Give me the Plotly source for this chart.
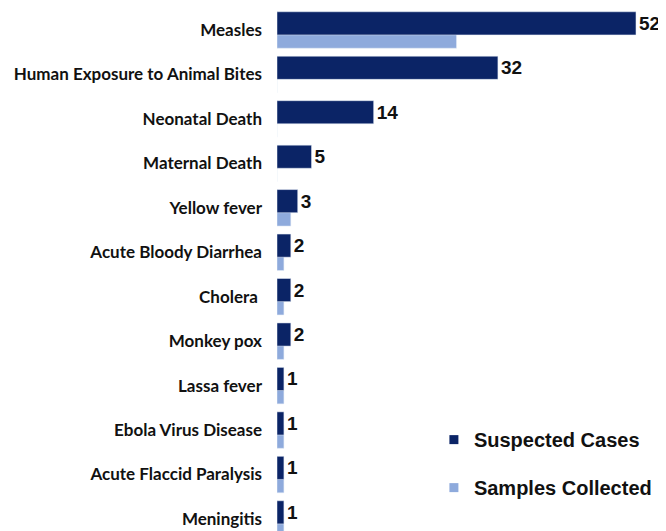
import plotly.graph_objects as go

categories = ["Measles", "Human Exposure to Animal Bites", "Neonatal Death", "Maternal Death",
              "Yellow fever", "Acute Bloody Diarrhea", "Cholera ", "Monkey pox", "Lassa fever",
              "Ebola Virus Disease", "Acute Flaccid Paralysis", "Meningitis"]
suspected = [52, 32, 14, 5, 3, 2, 2, 2, 1, 1, 1, 1]
samples = [26, 0, 0, 0, 2, 1, 1, 1, 1, 1, 1, 1]

dark = "#0B2466"
light = "#8EAADC"

fig = go.Figure()
fig.add_trace(go.Bar(
    y=categories, x=samples, orientation="h", marker_color=light,
    width=0.52, offset=-0.11, showlegend=False, hoverinfo="x+y",
))
fig.add_trace(go.Bar(
    y=categories, x=suspected, orientation="h", marker_color=dark,
    width=0.52, offset=-0.41, showlegend=False,
    text=[str(v) for v in suspected], textposition="outside", cliponaxis=False,
    textfont=dict(family="Liberation Sans", size=19, color="#111111"),
))
# legend entries
fig.add_trace(go.Scatter(x=[None], y=[None], mode="markers", name="Suspected Cases",
                         marker=dict(symbol="square", size=9, color=dark), legendgroup="a"))
fig.add_trace(go.Scatter(x=[None], y=[None], mode="markers", name="Samples Collected",
                         marker=dict(symbol="square", size=9, color=light), legendgroup="b"))

fig.update_layout(
    width=658, height=523, barmode="overlay",
    margin=dict(l=269, r=10, t=0, b=0),
    plot_bgcolor="white", paper_bgcolor="white",
    xaxis=dict(range=[0, 54.9], showgrid=False, zeroline=False, showticklabels=False,
               showline=False, fixedrange=True),
    yaxis=dict(type="category", range=[11.27, -0.495], showgrid=False, zeroline=False,
               showline=False, ticks="", ticklabelstandoff=14,
               tickfont=dict(family="Lato", size=17, color="#111111", weight="bold")),
    legend=dict(x=0.414, y=0.212, xanchor="left", yanchor="top", traceorder="grouped",
                tracegroupgap=19, itemwidth=30,
                font=dict(family="Liberation Sans", size=20, color="#111111", weight="bold"),
                bgcolor="rgba(0,0,0,0)"),
    font=dict(family="Liberation Sans", weight="bold"),
)
fig.write_html("out.html")
